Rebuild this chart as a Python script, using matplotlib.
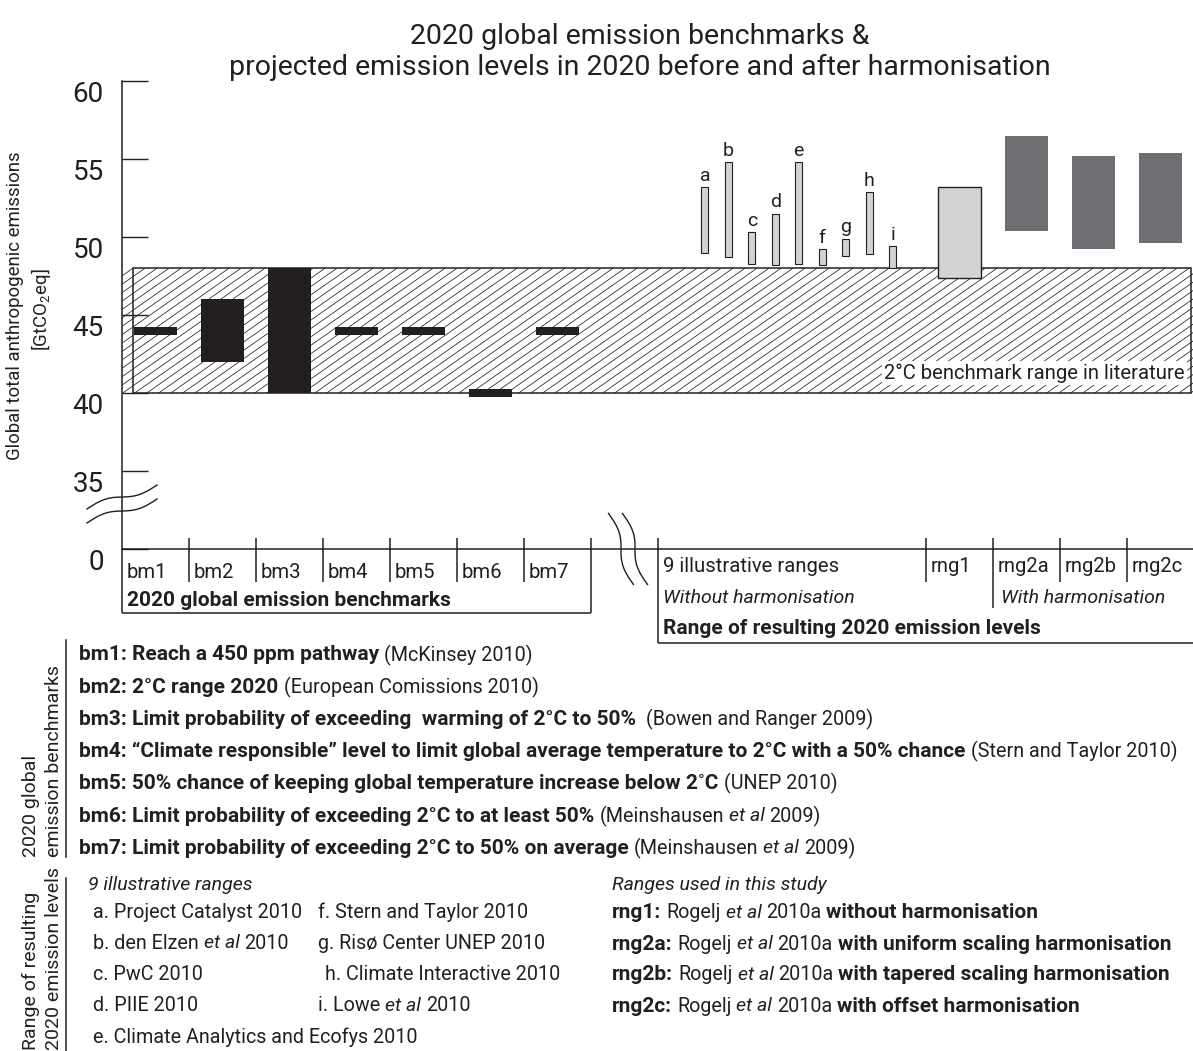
import matplotlib
matplotlib.use("Agg")
import matplotlib.pyplot as plt
import numpy as np
from matplotlib.patches import Rectangle
from matplotlib.collections import LineCollection
from matplotlib.transforms import blended_transform_factory

plt.rcParams['font.family'] = ['Roboto', 'DejaVu Sans']
plt.rcParams['mathtext.fontset'] = 'custom'
plt.rcParams['mathtext.rm'] = 'Roboto'
plt.rcParams['mathtext.it'] = 'Roboto:italic'
plt.rcParams['mathtext.bf'] = 'Roboto:bold'

INK = '#231f20'
LIGHT = '#d1d3d4'
DARK = '#6d6e71'

# 2020 benchmarks [GtCO2eq]; low == high means a single value
bm_names = ['bm1', 'bm2', 'bm3', 'bm4', 'bm5', 'bm6', 'bm7']
bm_low = [44, 42, 40, 44, 44, 40, 44]
bm_high = [44, 46, 48, 44, 44, 40, 44]

lit_low, lit_high = 40, 48

# 9 illustrative ranges (without harmonisation)
ill_names = ['a', 'b', 'c', 'd', 'e', 'f', 'g', 'h', 'i']
ill_low = [49.0, 48.7, 48.3, 48.2, 48.3, 48.2, 48.8, 48.9, 48.0]
ill_high = [53.2, 54.8, 50.3, 51.5, 54.8, 49.2, 49.9, 52.9, 49.4]

# ranges used in this study
rng_names = ['rng1', 'rng2a', 'rng2b', 'rng2c']
rng_low = [47.4, 50.4, 49.2, 49.6]
rng_high = [53.2, 56.5, 55.2, 55.4]

yticks = [30, 35, 40, 45, 50, 55, 60]
ytick_labels = ['0', '35', '40', '45', '50', '55', '60']

W, H = 1193, 1051
fig = plt.figure(figsize=(W / 100, H / 100), dpi=100)


def fx(px):
    return px / W


def fy(py):
    return 1 - py / H


# main axes: one column = 67 px, 5 units = 78 px
ax = fig.add_axes([fx(122), fy(549), fx(1193) - fx(122), fy(81) - fy(549)])
ax.set_xlim(0, (1193 - 122) / 67)
ax.set_ylim(30, 60)
ax.patch.set_visible(False)
for s in ['top', 'right']:
    ax.spines[s].set_visible(False)
for s in ['left', 'bottom']:
    ax.spines[s].set_linewidth(1.1)
    ax.spines[s].set_color(INK)
ax.set_xticks([])
ax.set_yticks(yticks, ytick_labels)
ax.tick_params(axis='y', direction='in', length=19, width=1.0, colors=INK,
               labelsize=20, pad=13)
plt.setp(ax.get_yticklabels(), va='top')

# literature benchmark range (hatched)
rect = Rectangle((0.164, lit_low), 15.955 - 0.164, lit_high - lit_low,
                 fill=False, edgecolor=INK, lw=1.1, zorder=2)
ax.add_patch(rect)
slope = 0.7 * 67 / 15.6
run = (lit_high - lit_low) / slope
starts = np.arange(0.164 - run, 15.955, 12 / 67)
segs = [[(u, lit_low), (u + run, lit_high)] for u in starts]
hatch = LineCollection(segs, colors=INK, linewidths=0.55, zorder=1)
hatch.set_clip_path(rect)
ax.add_collection(hatch)
ax.text(15.86, 41.28, '2°C benchmark range in literature', ha='right', va='center',
        fontsize=14.6, color=INK, zorder=4,
        bbox=dict(fc='white', ec='none', pad=1.5))

# benchmark bars
bm_x = np.arange(len(bm_names)) + 0.5
bm_h = [h - l if h > l else 0.5 for l, h in zip(bm_low, bm_high)]
bm_b = [l if h > l else l - 0.25 for l, h in zip(bm_low, bm_high)]
ax.bar(bm_x, bm_h, bottom=bm_b, width=0.65, color=INK, zorder=3)

# illustrative ranges
ill_x = 8.7 + 0.35 * np.arange(len(ill_names))
ax.bar(ill_x, np.subtract(ill_high, ill_low), bottom=ill_low, width=0.105,
       color=LIGHT, edgecolor=INK, lw=0.8, zorder=3)
for x, top, n in zip(ill_x, ill_high, ill_names):
    ax.annotate(n, (x, top), xytext=(0, 4.5), textcoords='offset points',
                ha='center', va='baseline', fontsize=14, color=INK)

# study ranges
rng_x = np.arange(len(rng_names)) + 12.5
rng_h = np.subtract(rng_high, rng_low)
ax.bar(rng_x[:1], rng_h[:1], bottom=rng_low[:1], width=0.65,
       color=LIGHT, edgecolor=INK, lw=1.0, zorder=3)
ax.bar(rng_x[1:], rng_h[1:], bottom=rng_low[1:], width=0.65,
       color=DARK, zorder=3)

# overlay in pixel units for frames, breaks and notes
ov = fig.add_axes([0, 0, 1, 1])
ov.set_xlim(0, W)
ov.set_ylim(H, 0)
ov.axis('off')
ov.patch.set_visible(False)
bt = blended_transform_factory(ax.transData, ov.transData)
lk = dict(color=INK, lw=1.1, transform=bt, solid_capstyle='butt')
REG, BOLD = 14.6, 15.0

# benchmark box under the axis
ov.plot([0, 0], [549, 613], **lk)
ov.plot([0, 7], [613, 613], **lk)
ov.plot([7, 7], [538, 613], **lk)
for i in range(1, 7):
    ov.plot([i, i], [538, 582], **lk)
for i, n in enumerate(bm_names):
    ov.text(i + 0.07, 572, n, transform=bt, fontsize=REG, va='center', color=INK)
ov.text(0.07, 600, '2020 global emission benchmarks', transform=bt, fontsize=BOLD,
        fontweight='bold', va='center', color=INK)

# range box under the axis
ov.plot([8, 8], [538, 643], **lk)
ov.plot([8, ax.get_xlim()[1]], [643, 643], **lk)
for i in [12, 14, 15]:
    ov.plot([i, i], [538, 582], **lk)
ov.plot([13, 13], [538, 608], **lk)
ov.text(8.07, 567, '9 illustrative ranges', transform=bt, fontsize=REG, va='center', color=INK)
for i, n in enumerate(rng_names):
    ov.text(12.07 + i, 567, n, transform=bt, fontsize=REG, va='center', color=INK)
ov.text(8.07, 598, 'Without harmonisation', transform=bt, fontsize=14,
        fontstyle='italic', va='center', color=INK)
ov.text(13.12, 598, 'With harmonisation', transform=bt, fontsize=14,
        fontstyle='italic', va='center', color=INK)
ov.text(8.07, 628, 'Range of resulting 2020 emission levels', transform=bt, fontsize=BOLD,
        fontweight='bold', va='center', color=INK)

# axis break marks
t = np.linspace(-1, 1, 60)
for cy in [497, 511]:
    ov.plot(122 + 35 * t, cy - 12 * t + 3.5 * np.sin(np.pi * t), color=INK, lw=1.0)
for cx in [621, 635]:
    ov.plot(cx + 12.5 * t - 4 * np.sin(np.pi * t), 549 + 35.5 * t, color=INK, lw=1.0)

# title and y label
ov.text(640, 37, '2020 global emission benchmarks &', ha='center', va='center',
        fontsize=20.5, color=INK)
ov.text(640, 67, 'projected emission levels in 2020 before and after harmonisation',
        ha='center', va='center', fontsize=20.5, color=INK)
ov.text(15, 306, 'Global total anthropogenic emissions', rotation=90, ha='center',
        va='center', fontsize=13.4, color=INK)
ov.text(41, 310, '[GtCO$_2$eq]', rotation=90, ha='center', va='center',
        fontsize=13.4, color=INK)

# legend
renderer = fig.canvas.get_renderer()
SIZES = {'r': 14.2, 'i': 14.0, 'b': 15.0}


def width_of(txt, **kw):
    tt = ov.text(0, 0, txt, **kw)
    w = tt.get_window_extent(renderer).width
    tt.remove()
    return w


def runs(x, y, parts):
    for txt, st in parts:
        kw = dict(fontsize=SIZES[st], fontweight='bold' if st == 'b' else 'normal',
                  fontstyle='italic' if st == 'i' else 'normal')
        space = width_of('x x', **kw) - width_of('xx', **kw)
        core = txt.strip()
        x += space * (len(txt) - len(txt.lstrip()))
        tt = ov.text(x, y, core, va='center', ha='left', color=INK, **kw)
        x += tt.get_window_extent(renderer).width
        x += space * (len(txt) - len(txt.rstrip()))


bm_lines = [
    [('bm1: Reach a 450 ppm pathway ', 'b'), ('(McKinsey 2010)', 'r')],
    [('bm2: 2°C range 2020 ', 'b'), ('(European Comissions 2010)', 'r')],
    [('bm3: Limit probability of exceeding  warming of 2°C to 50%  ', 'b'),
     ('(Bowen and Ranger 2009)', 'r')],
    [('bm4: “Climate responsible” level to limit global average temperature to 2°C '
      'with a 50% chance ', 'b'), ('(Stern and Taylor 2010)', 'r')],
    [('bm5: 50% chance of keeping global temperature increase below 2˚C ', 'b'),
     ('(UNEP 2010)', 'r')],
    [('bm6: Limit probability of exceeding 2°C to at least 50% ', 'b'),
     ('(Meinshausen ', 'r'), ('et al ', 'i'), ('2009)', 'r')],
    [('bm7: Limit probability of exceeding 2°C to 50% on average ', 'b'),
     ('(Meinshausen ', 'r'), ('et al ', 'i'), ('2009)', 'r')],
]
for k, parts in enumerate(bm_lines):
    runs(79, 655 + 32.2 * k, parts)

runs(88, 885, [('9 illustrative ranges', 'i')])
left_refs = [
    [('a. Project Catalyst 2010', 'r')],
    [('b. den Elzen ', 'r'), ('et al ', 'i'), ('2010', 'r')],
    [('c. PwC 2010', 'r')],
    [('d. PIIE 2010', 'r')],
    [('e. Climate Analytics and Ecofys 2010', 'r')],
]
for k, parts in enumerate(left_refs):
    runs(93, 912 + 31.3 * k, parts)
mid_refs = [
    (318, [('f. Stern and Taylor 2010', 'r')]),
    (318, [('g. Risø Center UNEP 2010', 'r')]),
    (325, [('h. Climate Interactive 2010', 'r')]),
    (318, [('i. Lowe ', 'r'), ('et al ', 'i'), ('2010', 'r')]),
]
for k, (x, parts) in enumerate(mid_refs):
    runs(x, 912 + 31.3 * k, parts)

runs(612, 885, [('Ranges used in this study', 'i')])
rng_desc = ['without harmonisation', 'with uniform scaling harmonisation',
            'with tapered scaling harmonisation', 'with offset harmonisation']
for k, (n, d) in enumerate(zip(rng_names, rng_desc)):
    runs(612, 913 + 31 * k, [(n + ': ', 'b'), ('Rogelj ', 'r'), ('et al ', 'i'),
                             ('2010a ', 'r'), (d, 'b')])

# group brackets
ov.plot([66, 66], [640, 857], color=INK, lw=1.1)
ov.plot([66, 66], [878, 1051], color=INK, lw=1.1)
gk = dict(rotation=90, ha='center', va='bottom', fontsize=14, color=INK)
ov.text(31, 857, '2020 global', **gk)
ov.text(54, 857, 'emission benchmarks', **gk)
ov.text(31, 1050, 'Range of resulting', **gk)
ov.text(54, 1050, '2020 emission levels', **gk)

fig.savefig('out.png', dpi=100)
